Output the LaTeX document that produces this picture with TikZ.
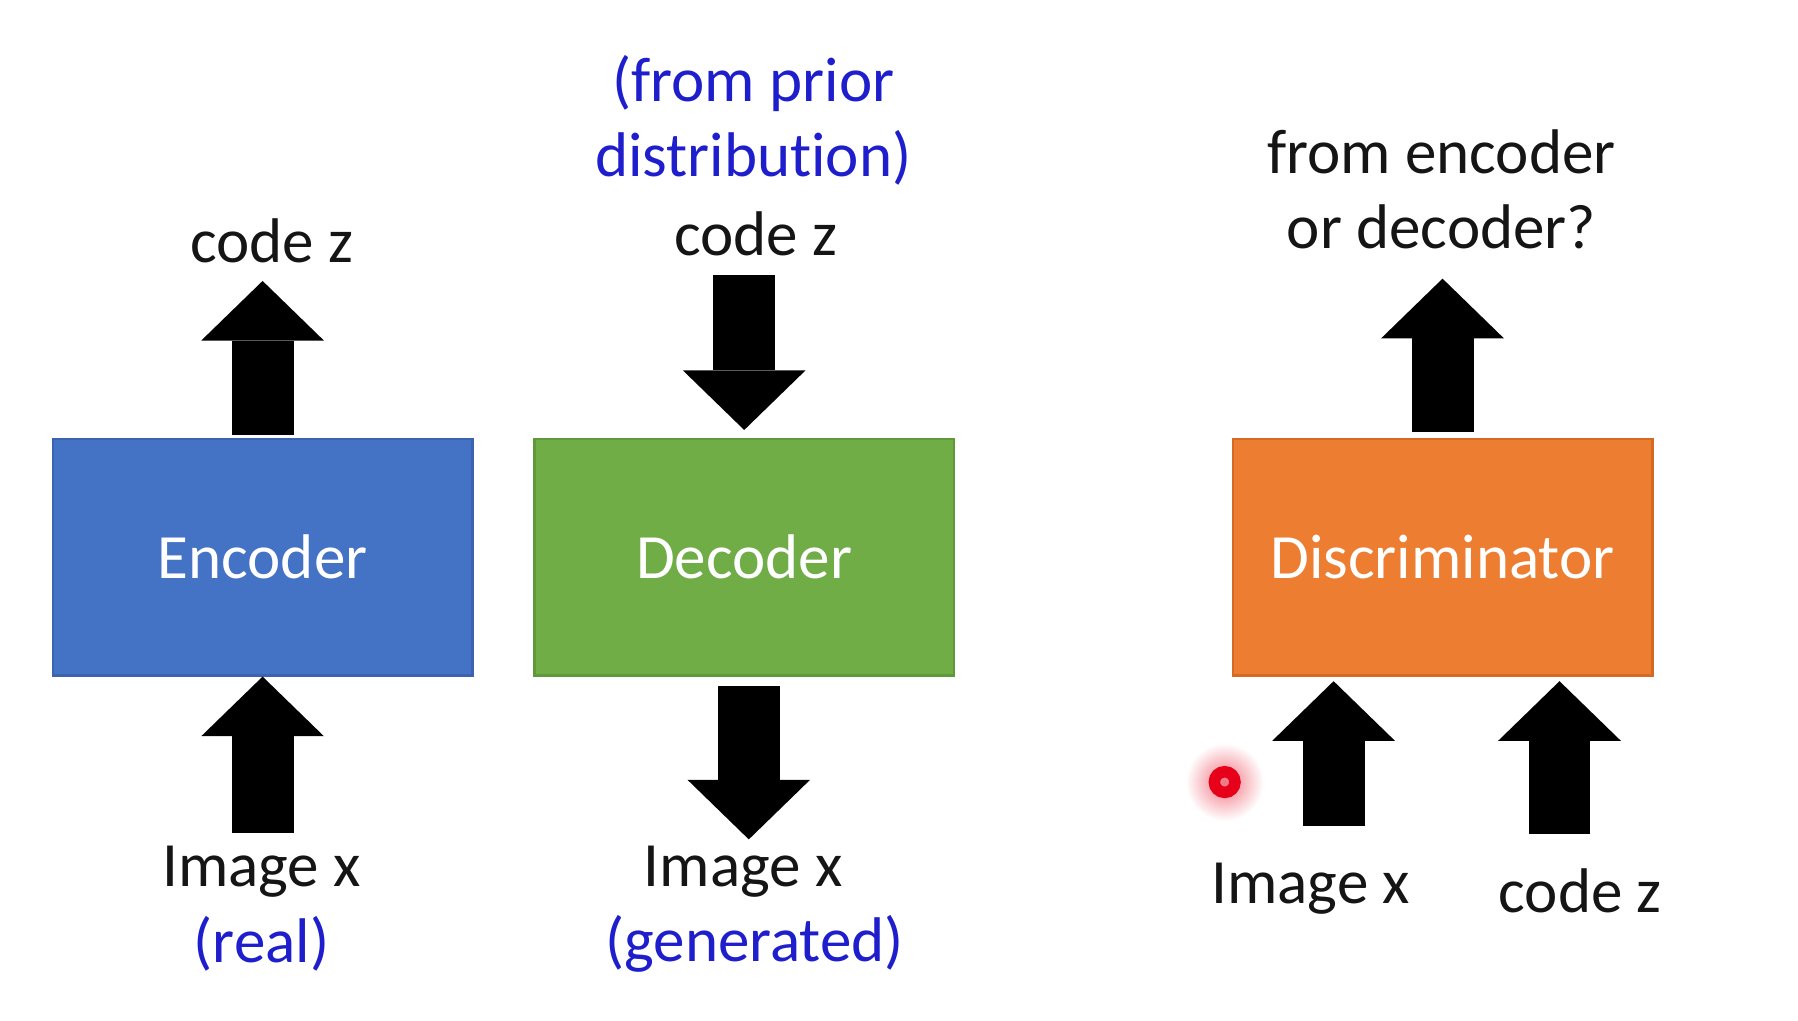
\documentclass[tikz,border=0pt]{standalone}
\usepackage{fontspec}
\setmainfont{Carlito}[Ligatures=NoCommon]
\usetikzlibrary{arrows.meta,calc}
\definecolor{encblue}{HTML}{4472C4}
\definecolor{encline}{HTML}{3C64AE}
\definecolor{decgreen}{HTML}{70AD47}
\definecolor{decline}{HTML}{5F9A3A}
\definecolor{discorange}{HTML}{ED7D31}
\definecolor{discline}{HTML}{D46A24}
\definecolor{notecol}{RGB}{30,30,205}
\definecolor{ink}{HTML}{151515}
\definecolor{pointer}{RGB}{230,0,25}
\begin{document}
\begin{tikzpicture}[x=0.02cm,y=-0.02cm,
  block/.style={minimum width=7.32cm, minimum height=4.12cm, inner sep=0pt,
    line width=1.2pt, text=white, font=\fontsize{31.3}{37.5}\selectfont},
  lbl/.style={text=ink, align=center, inner sep=0pt,
    font=\fontsize{31.3}{37.5}\selectfont},
  note/.style={lbl, text=notecol},
  fat/.style={line width=1.08cm,
    -{Triangle[width=2.14cm,length=1.04cm,line width=0pt]}}
]
\useasboundingbox (0,0) rectangle (1568,890);

% the three networks
\node[block, fill=encblue, draw=encline] (enc) at (229,486) {Encoder};
\node[block, fill=decgreen, draw=decline] (dec) at (649,486) {Decoder};
\node[block, fill=discorange, draw=discline] (disc) at (1258,486) {Discriminator};

% labels
\node[lbl] (encz) at (237,210) {code z};
\node[note] (prior) at (657,105) {(from prior\\distribution)};
\node[lbl] (decz) at (659,204) {code z};
\node[lbl] (question) at (1257,165) {from encoder\\or decoder?};
\node[lbl] (encx) at (228,760) {Image x};
\node[note] (real) at (228,823) {(real)};
\node[lbl] (decx) at (648,760) {Image x};
\node[note] (gen) at (658,823) {(generated)};
\node[lbl] (discx) at (1143,775) {Image x};
\node[lbl] (discz) at (1378,777) {code z};

% free ends of the block arrows
\coordinate (encout) at (229,245);
\coordinate (encin) at (229,726);
\coordinate (decin) at (649,240);
\coordinate (decout) at (653,732);
\coordinate (discout) at (1258,243);
\coordinate (discxin) at (1163,720);
\coordinate (disczin) at (1360,727);

% block arrows
\draw[fat] ([yshift=0.06cm]enc.north) -- (encout);
\draw[fat] (encin) -- (encin |- enc.south);
\draw[fat] (decin) -- ([yshift=0.14cm]dec.north);
\draw[fat, shorten <=0.16cm] (decout |- dec.south) -- (decout);
\draw[fat] ([yshift=0.1cm]disc.north) -- (discout);
\draw[fat, shorten >=0.08cm] (discxin) -- (discxin |- disc.south);
\draw[fat, shorten >=0.08cm] (disczin) -- (disczin |- disc.south);

% pointer mark
\shade[inner color=pointer!55, outer color=white] (1068,682) circle (34);
\draw[pointer, line width=0.2cm] (1068,682) circle (9);
\end{tikzpicture}
\end{document}
